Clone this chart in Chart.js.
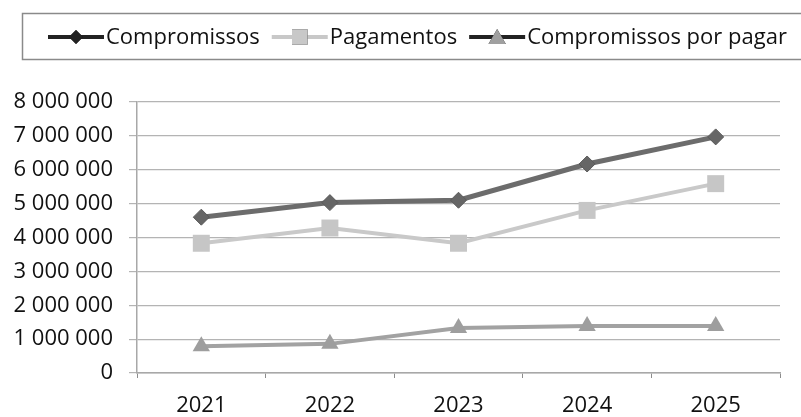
<!DOCTYPE html>
<html>
<head>
<meta charset="utf-8">
<script src="https://cdn.jsdelivr.net/npm/chart.js@4.4.1/dist/chart.umd.min.js"></script>
<style>
  html, body { margin: 0; padding: 0; background: #fff; }
  #wrap { width: 801px; height: 417px; }
</style>
</head>
<body>
<div id="wrap"><canvas id="c" width="801" height="417"></canvas></div>
<script>
const categories = ['2021', '2022', '2023', '2024', '2025'];
const compromissos = [4600000, 5030000, 5100000, 6170000, 6970000];
const pagamentos = [3830000, 4280000, 3830000, 4800000, 5590000];
const porPagar = [790000, 860000, 1330000, 1390000, 1390000];
const yTicks = [0, 1000000, 2000000, 3000000, 4000000, 5000000, 6000000, 7000000, 8000000];
const seriesLabels = ['Compromissos', 'Pagamentos', 'Compromissos por pagar'];

function fmt(v) {
  return String(v).replace(/\B(?=(\d{3})+(?!\d))/g, ' ');
}

const FONT = '"Open Sans", "DejaVu Sans", sans-serif';

const legendPlugin = {
  id: 'boxLegend',
  afterDraw(chart) {
    const ctx = chart.ctx;
    ctx.save();
    ctx.strokeStyle = '#8a8a8a';
    ctx.lineWidth = 1.5;
    ctx.strokeRect(22.5, 13.5, 800, 46);
    ctx.font = '500 22px ' + FONT;
    ctx.textBaseline = 'middle';
    ctx.fillStyle = '#111';
    const cy = 37;
    let x = 48;
    const legendStyles = [
      { line: '#222', fill: '#222', style: 'rectRot', r: 7 },
      { line: '#c8c8c8', fill: '#c8c8c8', style: 'rect', r: 11 },
      { line: '#222', fill: '#a0a0a0', style: 'triangle', r: 10 }
    ];
    chart.data.datasets.forEach((ds, i) => {
      const st = legendStyles[i];
      ctx.strokeStyle = st.line;
      ctx.lineWidth = 4;
      ctx.beginPath();
      ctx.moveTo(x, cy);
      ctx.lineTo(x + 56, cy);
      ctx.stroke();
      Chart.helpers.drawPoint(ctx, {
        pointStyle: st.style, radius: st.r, rotation: 0, borderWidth: 0
      }, x + 28, cy + (st.style === 'triangle' ? 2 : 0));
      ctx.fillStyle = st.fill;
      ctx.fill();
      ctx.fillStyle = '#111';
      ctx.fillText(ds.label, x + 58, cy + 1);
      x += 58 + ctx.measureText(ds.label).width + 12;
    });
    ctx.restore();
  }
};

new Chart(document.getElementById('c'), {
  type: 'line',
  data: {
    labels: categories,
    datasets: [
      {
        label: seriesLabels[0], data: compromissos,
        borderColor: '#6c6c6c', backgroundColor: '#666666', borderWidth: 5,
        pointStyle: 'rectRot', pointRadius: 8, pointBorderWidth: 1, pointBorderColor: '#5a5a5a',
        tension: 0
      },
      {
        label: seriesLabels[1], data: pagamentos,
        borderColor: '#c9c9c9', backgroundColor: '#c6c6c6', borderWidth: 4,
        pointStyle: 'rect', pointRadius: 12, pointBorderWidth: 0,
        tension: 0
      },
      {
        label: seriesLabels[2], data: porPagar,
        borderColor: '#a2a2a2', backgroundColor: '#9e9e9e', borderWidth: 4,
        pointStyle: 'triangle', pointRadius: 10, pointBorderWidth: 0,
        tension: 0
      }
    ]
  },
  options: {
    responsive: false,
    animation: false,
    events: [],
    layout: { padding: { top: 102, right: 21, left: 0, bottom: 0 } },
    plugins: { legend: { display: false }, tooltip: { enabled: false } },
    scales: {
      x: {
        offset: true,
        grid: { display: true, drawOnChartArea: false, drawTicks: true, tickLength: 5, color: '#8c8c8c', offset: true },
        border: { display: true, color: '#a8a8a8', width: 1.5 },
        ticks: { color: '#111', font: { family: FONT, size: 22, weight: '500' }, padding: 15, maxRotation: 0 },
        afterFit(s) { s.height = 44; }
      },
      y: {
        min: 0, max: 8000000,
        afterBuildTicks(s) { s.ticks = yTicks.map(v => ({ value: v })); },
        grid: { color: '#b4b4b4', lineWidth: 1.2, tickLength: 8 },
        border: { display: true, color: '#a8a8a8', width: 1.5 },
        ticks: { color: '#111', font: { family: FONT, size: 22, weight: '500' }, padding: 16, callback: v => fmt(v) },
        afterFit(s) { s.width = 137; }
      }
    }
  },
  plugins: [legendPlugin]
});
</script>
</body>
</html>
